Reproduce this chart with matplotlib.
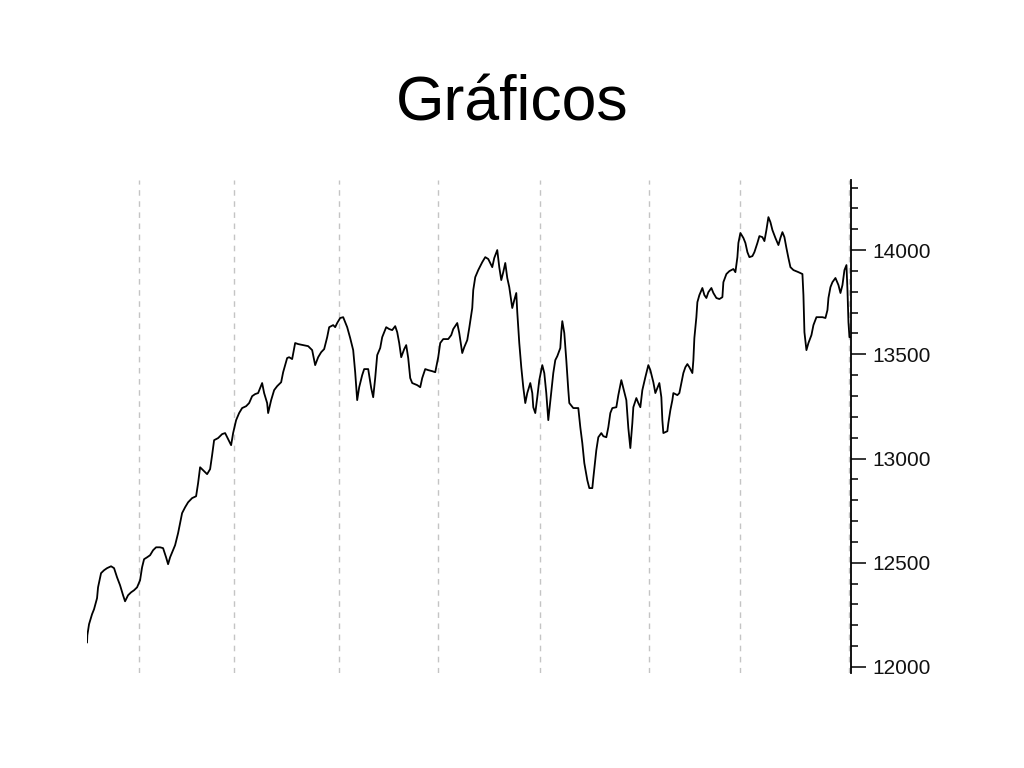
import matplotlib
matplotlib.use("Agg")
import matplotlib.pyplot as plt
from matplotlib.ticker import MultipleLocator

plt.rcParams['font.family'] = ['Liberation Sans', 'DejaVu Sans']

title = "Gráficos"

# time position (arbitrary trading-time units) and index level
t = [0, 0.3, 2, 5, 7, 10, 11, 14, 17, 20, 24, 27, 30, 33, 36, 38, 41, 44, 47, 50,
     53, 55, 57, 60, 63, 66, 69, 73, 76, 79, 81, 83, 86, 88, 91, 93, 95, 98, 101, 105,
     109, 111, 113, 116, 120, 123, 125, 127, 131, 135, 138, 141, 144, 146, 149, 152, 155, 159, 162, 165,
     168, 171, 175, 177, 180, 181, 184, 187, 190, 194, 196, 200, 202, 205, 208, 211, 216, 221, 225, 228,
     231, 234, 237, 240, 242, 246, 248, 250, 253, 256, 260, 263, 266, 268, 270, 272, 275, 277, 281, 284,
     286, 288, 290, 293, 295, 299, 302, 305, 308, 310, 312, 314, 317, 319, 321, 323, 325, 330, 333, 335,
     338, 341, 345, 348, 351, 353, 356, 361, 364, 366, 370, 372, 375, 377, 380, 382, 385, 386, 388, 391,
     395, 398, 401, 405, 407, 410, 412, 414, 416, 418, 420, 422, 425, 427, 429, 430, 432, 434, 436, 438,
     440, 443, 445, 446, 448, 450, 452, 455, 457, 459, 461, 464, 466, 468, 470, 473, 474, 475, 477, 479,
     481, 482, 486, 491, 493, 495, 497, 500, 502, 505, 506, 509, 511, 514, 516, 519, 521, 523, 525, 529,
     531, 534, 536, 539, 541, 543, 545, 546, 549, 551, 553, 555, 558, 561, 563, 566, 568, 570, 572, 574,
     575, 576, 580, 581, 583, 585, 586, 590, 592, 594, 596, 598, 600, 602, 605, 606, 607, 609, 610, 612,
     615, 617, 619, 621, 624, 626, 629, 632, 635, 636, 639, 642, 646, 648, 650, 651, 653, 656, 658, 660,
     662, 665, 667, 670, 672, 675, 677, 679, 681, 683, 685, 688, 691, 693, 695, 697, 699, 701, 703, 706,
     711, 715, 716, 717, 719, 721, 724, 726, 729, 732, 735, 738, 740, 741, 743, 745, 748, 751, 753, 755,
     756, 757, 759, 760, 761, 762, 764]

level = [12118, 12152, 12205, 12253, 12277, 12330, 12382, 12450, 12464, 12474, 12483, 12474, 12430, 12392, 12344, 12315, 12344, 12358, 12368, 12382,
         12416, 12478, 12517, 12526, 12536, 12560, 12574, 12574, 12570, 12526, 12493, 12526, 12560, 12584, 12642, 12690, 12738, 12766, 12790, 12810,
         12819, 12882, 12958, 12944, 12925, 12949, 13016, 13088, 13098, 13117, 13122, 13093, 13064, 13122, 13184, 13218, 13242, 13251, 13266, 13299,
         13309, 13314, 13362, 13314, 13266, 13218, 13280, 13328, 13347, 13366, 13414, 13482, 13486, 13477, 13554, 13549, 13544, 13539, 13520, 13448,
         13486, 13510, 13525, 13582, 13630, 13640, 13630, 13650, 13674, 13678, 13630, 13578, 13520, 13414, 13280, 13342, 13400, 13429, 13429, 13338,
         13294, 13386, 13496, 13530, 13582, 13630, 13621, 13616, 13635, 13606, 13554, 13486, 13525, 13544, 13482, 13386, 13362, 13352, 13342, 13386,
         13429, 13424, 13419, 13414, 13486, 13554, 13573, 13573, 13592, 13621, 13650, 13602, 13506, 13534, 13568, 13626, 13722, 13808, 13870, 13904,
         13942, 13966, 13957, 13918, 13962, 14000, 13918, 13856, 13894, 13938, 13866, 13822, 13722, 13760, 13794, 13702, 13554, 13438, 13342, 13266,
         13314, 13362, 13314, 13246, 13218, 13294, 13376, 13448, 13410, 13314, 13184, 13318, 13410, 13472, 13491, 13530, 13606, 13659, 13602, 13472,
         13328, 13266, 13242, 13242, 13150, 13074, 12978, 12896, 12858, 12858, 12906, 13040, 13102, 13122, 13107, 13102, 13150, 13218, 13242, 13246,
         13304, 13376, 13338, 13280, 13146, 13050, 13170, 13246, 13290, 13266, 13246, 13328, 13390, 13448, 13424, 13366, 13314, 13338, 13362, 13294,
         13184, 13122, 13131, 13170, 13232, 13280, 13314, 13304, 13314, 13362, 13410, 13438, 13453, 13438, 13410, 13472, 13578, 13678, 13750, 13784,
         13818, 13784, 13770, 13798, 13818, 13794, 13770, 13765, 13774, 13846, 13885, 13899, 13909, 13894, 13966, 14034, 14082, 14058, 14034, 13990,
         13966, 13971, 13990, 14034, 14067, 14062, 14043, 14096, 14158, 14134, 14096, 14058, 14024, 14058, 14086, 14062, 14010, 13962, 13918, 13904,
         13894, 13885, 13784, 13606, 13520, 13554, 13592, 13640, 13678, 13678, 13678, 13674, 13712, 13770, 13822, 13846, 13866, 13832, 13794, 13832,
         13870, 13904, 13928, 13808, 13654, 13582, 13582]

# vertical period separators
gridlines = [52, 147, 252, 351, 453, 562, 653, 762]

fig = plt.figure(figsize=(10.24, 7.68), dpi=100)
fig.patch.set_facecolor('white')
ax = fig.add_axes([0.085, 0.1237, 0.7465, 0.6419])

for g in gridlines:
    ax.axvline(g, color='#c4c4c4', lw=1.0, ls=(0, (4, 4)), zorder=1)

ax.plot(t, level, color='black', lw=1.3, zorder=3)

ax.set_xlim(0, 764)
ax.set_ylim(11971, 14336)

for s in ['left', 'top', 'bottom']:
    ax.spines[s].set_visible(False)
ax.spines['right'].set_color('black')
ax.spines['right'].set_linewidth(1.3)

ax.set_xticks([])
ax.yaxis.tick_right()
ax.yaxis.set_major_locator(MultipleLocator(500))
ax.yaxis.set_minor_locator(MultipleLocator(100))
ax.tick_params(axis='y', which='major', length=11, width=1.1, color='black',
               labelsize=15, pad=4, labelcolor='#111111')
ax.tick_params(axis='y', which='minor', length=5, width=1.1, color='black')

fig.text(0.5, 0.8437, title, ha='center', va='baseline', fontsize=45, color='black')

fig.savefig('out.png', dpi=100, facecolor='white')
